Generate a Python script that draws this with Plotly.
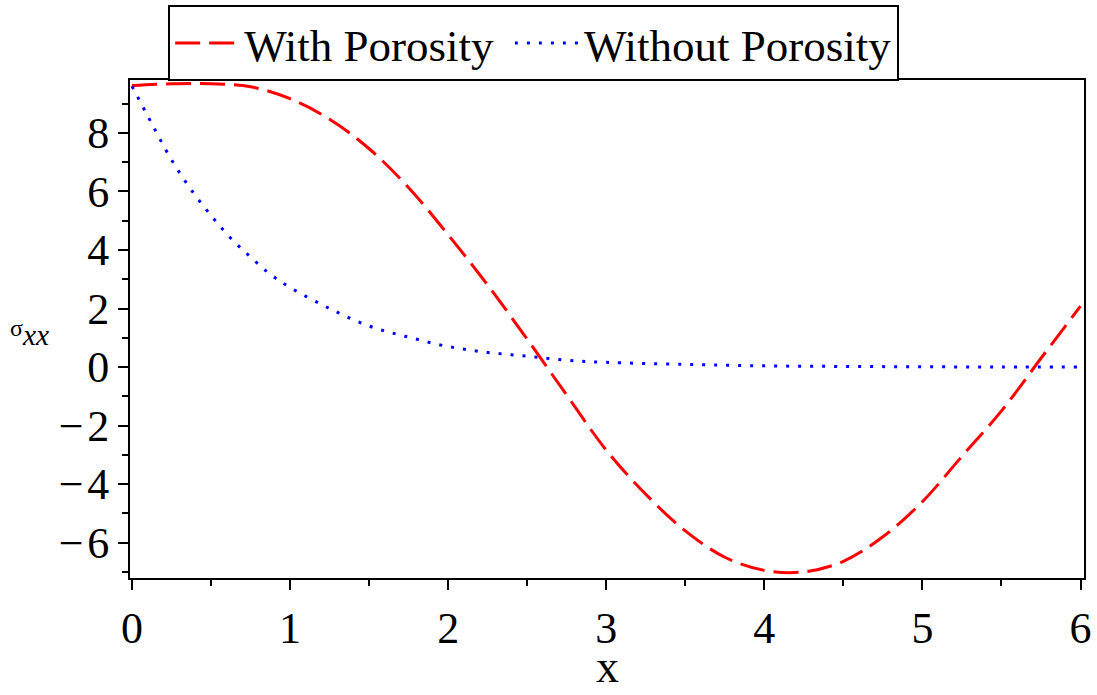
import plotly.graph_objects as go

# With Porosity (red dashed)
x_with = [0.0, 0.25, 0.5, 0.75, 1.0, 1.25, 1.5, 1.75, 2.0, 2.25, 2.5, 2.75, 3.0,
          3.25, 3.5, 3.75, 4.0, 4.25, 4.5, 4.75, 5.0, 5.25, 5.5, 5.75, 6.0]
y_with = [9.62, 9.68, 9.68, 9.58, 9.17, 8.47, 7.46, 6.13, 4.52, 2.8, 0.95, -0.96, -2.84,
          -4.35, -5.6, -6.5, -6.95, -7.0, -6.64, -5.8, -4.6, -3.05, -1.5, 0.3, 2.08]

# Without Porosity (blue dotted)
x_without = [0.0, 0.125, 0.25, 0.375, 0.5, 0.625, 0.75, 0.875, 1.0, 1.25, 1.5, 1.75, 2.0,
             2.25, 2.5, 2.75, 3.0, 3.5, 4.0, 4.5, 5.0, 5.5, 6.0]
y_without = [9.6, 8.32, 7.08, 6.05, 5.18, 4.4, 3.76, 3.17, 2.72, 2.0, 1.4, 1.02, 0.7,
             0.5, 0.37, 0.23, 0.16, 0.09, 0.04, 0.02, 0.01, 0.0, 0.0]

x_ticks = [0, 1, 2, 3, 4, 5, 6]
x_ticktext = ["0", "1", "2", "3", "4", "5", "6"]
y_ticks = [-6, -4, -2, 0, 2, 4, 6, 8]
y_ticktext = ["\u2212\u200a6", "\u2212\u200a4", "\u2212\u200a2", "0", "2", "4", "6", "8"]

FONT = "Liberation Serif, Times New Roman, serif"

fig = go.Figure()
fig.add_trace(go.Scatter(x=x_with, y=y_with, mode="lines", name="With Porosity\u00a0",
                         line=dict(color="#ff0000", width=3, dash="25px,9px", shape="spline")))
fig.add_trace(go.Scatter(x=x_without, y=y_without, mode="lines", name="Without Porosity",
                         line=dict(color="#0000ff", width=3, dash="3px,9px", shape="spline")))

axis_common = dict(showline=True, linecolor="black", linewidth=2, mirror=True,
                   ticks="outside", tickcolor="black", tickwidth=2, ticklen=10,
                   showgrid=False, zeroline=False, automargin=False,
                   tickfont=dict(family=FONT, size=44, color="black"))

fig.update_xaxes(range=[-0.0127, 6.022], tickmode="array", tickvals=x_ticks, ticktext=x_ticktext,
                 minor=dict(dtick=0.5, ticks="outside", ticklen=6, tickwidth=2, tickcolor="black", showgrid=False),
                 **axis_common)
fig.update_yaxes(range=[-7.21, 9.81], tickmode="array", tickvals=y_ticks, ticktext=y_ticktext,
                 minor=dict(dtick=1, ticks="outside", ticklen=6, tickwidth=2, tickcolor="black", showgrid=False),
                 **axis_common)

# x-axis title
fig.add_annotation(xref="paper", yref="paper", x=0.5, y=(578 - 694) / 498.0,
                   xanchor="center", yanchor="bottom", showarrow=False,
                   text="x", font=dict(family=FONT, size=46, color="black"))

# y-axis title (horizontal, as in the reference)
fig.add_annotation(xref="paper", yref="paper", x=-0.128, y=(578 - 333) / 498.0,
                   xanchor="left", yanchor="middle", showarrow=False,
                   text="<span style='font-size:24px'>σ</span><sub><i>xx</i></sub>",
                   font=dict(family=FONT, size=42, color="black"))

fig.update_layout(
    width=1097, height=695,
    margin=dict(l=130, r=13, t=80, b=117, autoexpand=False),
    paper_bgcolor="white", plot_bgcolor="white",
    showlegend=True,
    legend=dict(orientation="h", x=0.04, y=1.15, xanchor="left", yanchor="top",
                bordercolor="black", borderwidth=2, bgcolor="white",
                font=dict(family=FONT, size=45, color="black"),
                itemwidth=64, tracegroupgap=0),
)

fig.write_html("out.html")
